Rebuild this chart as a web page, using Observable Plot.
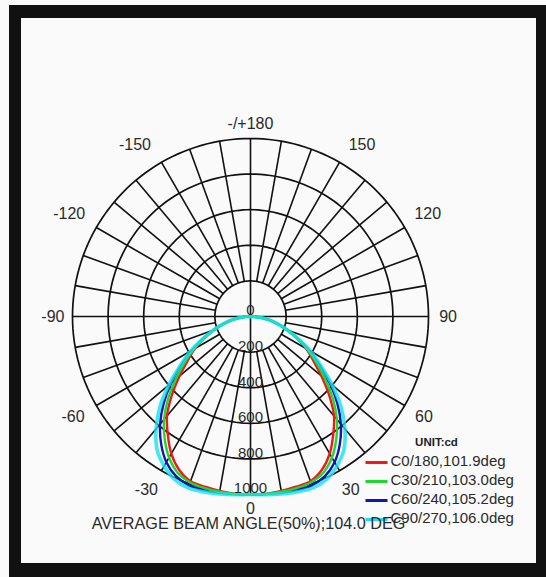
<!DOCTYPE html>
<html><head><meta charset="utf-8">
<script src="https://cdn.jsdelivr.net/npm/d3@7"></script>
<script src="https://cdn.jsdelivr.net/npm/@observablehq/plot@0.6"></script>
<style>
html,body{margin:0;padding:0;background:#fff;}
#wrap{position:relative;width:546px;height:577px;overflow:hidden;background:#fafafa;}
#chart{position:absolute;left:0;top:0;}
#frame{position:absolute;left:9px;top:5px;right:-2px;bottom:-2px;border-style:solid;border-color:#111;border-width:13px 12px 16px 12.6px;box-sizing:border-box;pointer-events:none;}
</style></head>
<body><div id="wrap"><div id="chart"></div><div id="frame"></div></div>
<script>
// ---- data ----
const angles = [0,5,10,15,20,25,30,35,40,45,50,55,60,65,70,75,80,85,90];
const c0   = [1000,1000,995,990,985,950,890,810,730,625,520,430,362,285,218,156,101,49,0];
const c30  = [1000,1000,1000,998,992,968,915,840,755,655,548,452,368,288,218,156,101,49,0];
const c60  = [1000,1002,1005,1010,1010,990,945,875,790,690,580,470,378,292,218,156,101,49,0];
const c90  = [1000,1005,1012,1020,1025,1010,970,915,825,720,600,482,388,296,218,156,101,49,0];
const seriesNames  = ["C0/180,101.9deg","C30/210,103.0deg","C60/240,105.2deg","C90/270,106.0deg"];
const seriesColors = ["#f01818","#22d630","#1414b4","#14e4ec"];
const ringValues  = [200,400,600,800,1000];
const ringLabels  = ["0","200","400","600","800","1000"];
const angleTicks  = [180,150,120,90,60,30,0,-30,-60,-90,-120,-150];
const spokeStep = 10;
const unitLabel = "UNIT:cd";
const caption = "AVERAGE BEAM ANGLE(50%);104.0 DEG";

// ---- layout ----
const W = 546, H = 577, CX = 250, CY = 316, K = 0.178; // px per cd
const X = px => (px - CX) / K, Y = py => (CY - py) / K;
const rad = d => d * Math.PI / 180;
const font = "'Liberation Sans', Arial, sans-serif";

// grid
const rings = [];
for (const r of ringValues) for (let a = 0; a <= 360; a += 2) rings.push({r, x: r*Math.sin(rad(a)), y: -r*Math.cos(rad(a))});
const spokes = [];
for (let a = 0; a < 360; a += spokeStep) {
  const r0 = (a % 90 === 0) ? 0 : ringValues[0];
  const r1 = ringValues[ringValues.length-1];
  spokes.push({x1: r0*Math.sin(rad(a)), y1: -r0*Math.cos(rad(a)), x2: r1*Math.sin(rad(a)), y2: -r1*Math.cos(rad(a))});
}

// curves
const allSeries = [c0, c30, c60, c90];
const curvePts = allSeries.map((vals, i) => {
  const pts = [];
  for (let j = angles.length-1; j >= 0; j--) pts.push({a: -angles[j], v: vals[j]});
  for (let j = 1; j < angles.length; j++) pts.push({a: angles[j], v: vals[j]});
  return pts.map(p => ({s: seriesNames[i], x: p.v*Math.sin(rad(p.a)), y: -p.v*Math.cos(rad(p.a))}));
});
const drawOrder = [0, 2, 1, 3];

// labels
const ringText = ringLabels.map((t, i) => ({t, x: 0, y: -(i===0 ? 0 : ringValues[i-1])}));
const angleText = angleTicks.map(a => {
  const abs = Math.abs(a);
  const r = (a % 180 === 0) ? 1080 : (abs === 90 ? 1110 : (abs === 30 || abs === 60 ? 1125 : 1150));
  const pa = abs === 150 ? Math.sign(a) * 147 : a;   // label placement nudge
  return {t: a === 180 ? "-/+180" : String(a),
          x: r*Math.sin(rad(pa)) + (a < 0 && abs !== 90 ? -4/K : 0),
          y: -r*Math.cos(rad(pa))};
});
const legendRows = seriesNames.map((s, i) => ({s, c: seriesColors[i], y: Y(462 + i*19)}));

const chart = Plot.plot({
  width: W, height: H, margin: 0,
  style: {background: "transparent", fontFamily: font},
  x: {domain: [X(0), X(W)], axis: null},
  y: {domain: [Y(H), Y(0)], axis: null},
  marks: [
    Plot.line(rings, {x: "x", y: "y", z: "r", stroke: "#111", strokeWidth: 1.7}),
    Plot.link(spokes, {x1: "x1", y1: "y1", x2: "x2", y2: "y2", stroke: "#111", strokeWidth: 1.6}),
    ...drawOrder.map(i => Plot.line(curvePts[i], {x: "x", y: "y", stroke: seriesColors[i], strokeWidth: i === 3 ? 3.6 : 2.4, strokeOpacity: i === 3 ? 0.8 : 1, curve: "catmull-rom"})),
    Plot.text(ringText, {x: "x", y: "y", text: "t", dy: -6, fontSize: 15, fill: "#2a2a2a"}),
    Plot.text(angleText, {x: "x", y: "y", text: "t", fontSize: 16, fill: "#2a2a2a"}),
    Plot.text([unitLabel], {x: X(436), y: Y(442), text: d => d, fontSize: 11.5, fontWeight: "bold", fill: "#222"}),
    Plot.link(legendRows, {x1: X(365), x2: X(387), y1: "y", y2: "y", stroke: "c", strokeWidth: 3}),
    Plot.text([caption], {x: X(248), y: Y(523), text: d => d, fontSize: 16.2, fill: "#2a2a2a"}),
    Plot.text(legendRows, {x: X(390), y: "y", text: "s", textAnchor: "start", dy: -1, fontSize: 15, fill: "#2a2a2a"})
  ]
});
document.getElementById("chart").appendChild(chart);
</script>
</body></html>
